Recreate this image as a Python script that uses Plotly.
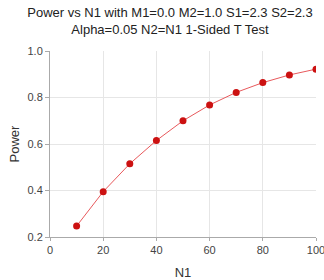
import plotly.graph_objects as go

n1 = [10, 20, 30, 40, 50, 60, 70, 80, 90, 100]
power = [0.247, 0.395, 0.515, 0.615, 0.700, 0.768, 0.822, 0.864, 0.897, 0.922]
x_ticks = [0, 20, 40, 60, 80, 100]
y_ticks = [0.2, 0.4, 0.6, 0.8, 1.0]

fig = go.Figure()
fig.add_trace(go.Scatter(
    x=n1, y=power, mode="lines+markers",
    line=dict(color="#e8595c", width=1),
    marker=dict(color="#cc1111", size=7),
    showlegend=False,
))

fig.update_layout(
    width=324, height=280,
    margin=dict(l=50, r=8, t=51, b=43),
    paper_bgcolor="white", plot_bgcolor="white",
    font=dict(family="Liberation Sans, Arial, sans-serif", color="#333"),
    title=dict(
        text="Power vs N1 with M1=0.0 M2=1.0 S1=2.3 S2=2.3<br>Alpha=0.05 N2=N1 1-Sided T Test",
        x=170/324, xanchor="center", xref="container",
        y=1 - 17/280, yanchor="middle", yref="container",
        font=dict(size=13, color="#222"),
    ),
)
fig.update_xaxes(
    range=[0, 100], tickvals=x_ticks, ticktext=[str(v) for v in x_ticks],
    showline=True, linecolor="#aaa", linewidth=1,
    showgrid=True, gridcolor="#e6e6e6", gridwidth=1,
    ticks="outside", ticklen=3, tickcolor="#aaa",
    tickfont=dict(size=11, color="#444"),
    ticklabeloverflow="allow", automargin=False,
    title=dict(text="N1", font=dict(size=13, color="#333"), standoff=12),
    zeroline=False,
)
fig.update_yaxes(
    range=[0.2, 1.0], tickvals=y_ticks, ticktext=[f"{v:.1f}" for v in y_ticks],
    showline=True, linecolor="#aaa", linewidth=1,
    showgrid=True, gridcolor="#e6e6e6", gridwidth=1,
    ticks="outside", ticklen=4, tickcolor="#aaa",
    tickfont=dict(size=11, color="#444"),
    automargin=False,
    title=dict(text="Power", font=dict(size=13, color="#333"), standoff=4),
    zeroline=False,
)

fig.write_html("out.html")
